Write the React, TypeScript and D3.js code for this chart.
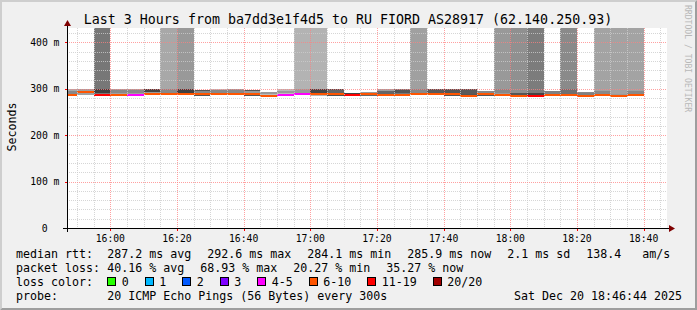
import React from "react";
import * as d3 from "d3";

// ---------- data ----------
const lossLabels = ["0", "1", "2", "3", "4-5", "6-10", "11-19", "20/20"];
const lossColors = ["#26ff00", "#00b8ff", "#0059ff", "#7e00ff", "#ff00ff", "#ff5500", "#ff0000", "#a10000"];

// 5-minute intervals starting 15:45 (35 intervals, last 18:35-18:40)
const smokeTop = [298.8, 298.8, 500, 298.8, 298.8, 298.8, 500, 500, 297.5, 298.8, 298.8, 297, 293.6, 298.8, 500, 500, 299, 292, 293, 300, 299, 500, 298.8, 298.8, 298.8, 295.7, 500, 500, 500, 295.7, 500, 293, 500, 500, 500];
const smokeBottom = [285, 285.9, 286, 286.5, 286.5, 286, 286.5, 286.5, 284.5, 286.5, 286.5, 284.5, 282.2, 284.5, 286.5, 284.5, 284.5, 285, 285, 283.5, 285, 286, 286, 284.5, 284, 284.3, 286, 284, 284, 285.5, 284.5, 283.5, 285.5, 283.5, 285.5];
const smokeGrey = [0xaa, 0xa0, 0x77, 0xa0, 0xa0, 0x99, 0xa8, 0x99, 0x55, 0xbb, 0x99, 0x55, 0xbb, 0xbb, 0xb3, 0xb3, 0x50, 0x44, 0x66, 0xa0, 0x77, 0xa0, 0x55, 0x55, 0x55, 0x55, 0x99, 0x90, 0x7c, 0x88, 0x8a, 0x88, 0xa3, 0xa3, 0xa3];
const coreTop = [295.7, 296, 298.8, 297, 297.3, 298.8, 298.8, 298.8, 296, 297, 297, 295, 292.5, 296, 298.8, 298.8, 297, 292, 292.5, 296, 297, 298.8, 298, 298.8, 298, 295.7, 298.8, 290, 291.4, 295, 298.8, 292, 295.7, 288.6, 295.7];
const coreBottom = [289.3, 292, 290, 290, 290, 293.6, 291, 290, 290, 290, 290, 290, 288, 291, 291, 290.5, 292, 285, 290, 288, 290, 291, 291, 284.5, 288, 290, 290, 286.5, 286.5, 289, 288, 287.5, 289, 287, 289];
const coreGrey = [0x88, 0x55, 0x40, 0x88, 0x88, 0x44, 0x88, 0x40, 0x88, 0x88, 0x88, 0x99, 0x99, 0x99, 0x99, 0x44, 0x66, 0x44, 0x99, 0x66, 0x55, 0x88, 0x5a, 0x55, 0x5a, 0x88, 0x88, 0x55, 0x44, 0x80, 0x70, 0x80, 0x88, 0x99, 0x88];
const medianMs = [287.1, 292.5, 287.1, 287.6, 287.6, 288.6, 288.6, 288.6, 288.6, 288.6, 288.6, 288, 285.3, 287.6, 288.6, 289.5, 289.5, 287.1, 288.6, 285.9, 287.1, 288, 288, 288, 285, 289.3, 287.1, 285, 285, 287.1, 286, 284.8, 287.1, 285, 287.1];
const lossIdx = [5, 5, 6, 5, 4, 5, 5, 5, 5, 5, 5, 5, 5, 4, 4, 5, 5, 6, 5, 5, 5, 5, 5, 5, 5, 5, 5, 5, 6, 5, 5, 5, 5, 5, 5];

const rttLegend = ["287.2 ms avg", "292.6 ms max", "284.1 ms min", "285.9 ms now", "2.1 ms sd", "138.4   am/s"];
const lossLegend = ["40.16 % avg", "68.93 % max", "20.27 % min", "35.27 % now"];
const titleText = "Last 3 Hours from ba7dd3e1f4d5 to RU FIORD AS28917 (62.140.250.93)";
const probeText = "20 ICMP Echo Pings (56 Bytes) every 300s";
const dateText = "Sat Dec 20 18:46:44 2025";

// ---------- layout ----------
const W = 697, H = 310;
const PL = 67, PR = 667, PT = 28, PB = 228;
const MONO = "'DejaVu Sans Mono', monospace";
const CW = 7; // char width of legend font

const tStart = new Date(2025, 11, 20, 15, 47, 0);
const tEnd = new Date(2025, 11, 20, 18, 47, 0);
const firstInterval = new Date(2025, 11, 20, 15, 45, 0);

const x = d3.scaleTime().domain([tStart, tEnd]).range([PL, PR]);
const y = d3.scaleLinear().domain([0, 431]).range([PB, PT]);

const grey = (g: number) => d3.rgb(g, g, g).formatHex();

export default function App() {
  const majorX = x.ticks(d3.timeMinute.every(20) as any);
  const minorX = x.ticks(d3.timeMinute.every(5) as any).filter((t) => t.getMinutes() % 20 !== 0);
  const minorY = d3.range(20, 431, 20).filter((v) => v % 100 !== 0);
  const majorY = d3.range(0, 431, 100);
  const fmt = d3.timeFormat("%H:%M");

  const intervals = medianMs.map((m, i) => {
    const s = d3.timeMinute.offset(firstInterval, 5 * i);
    const e = d3.timeMinute.offset(s, 5);
    return { x0: Math.max(x(s), PL), x1: x(e), i };
  });

  // legend boxes
  let lx = 107.3;
  const boxes = lossLabels.map((lab, i) => {
    const item = { bx: lx, tx: lx + 14.5, lab, col: lossColors[i] };
    lx = lx + 14.5 + lab.length * CW + 16;
    return item;
  });

  const rttX = [107.3];
  rttLegend.forEach((s, i) => { if (i > 0) rttX.push(rttX[i - 1] + rttLegend[i - 1].length * CW + 16); });
  const lossX = [107.3];
  lossLegend.forEach((s, i) => { if (i > 0) lossX.push(lossX[i - 1] + lossLegend[i - 1].length * CW + 16); });

  return (
    <svg width={W} height={H} style={{ position: "absolute", left: 0, top: 0 }} xmlns="http://www.w3.org/2000/svg">
      <defs>
        <clipPath id="plot">
          <rect x={PL} y={PT} width={PR - PL} height={PB - PT} />
        </clipPath>
      </defs>
      <rect x={0} y={0} width={W} height={H} fill="#f0f0f0" />
      <polygon points={`0,0 ${W},0 ${W - 2},2 2,2 2,${H - 2} 0,${H}`} fill="#cecece" />
      <polygon points={`${W},0 ${W},${H} 0,${H} 2,${H - 2} ${W - 2},${H - 2} ${W - 2},2`} fill="#9e9e9e" />
      <rect x={PL} y={PT} width={PR - PL} height={PB - PT} fill="#ffffff" />

      <g clipPath="url(#plot)" shapeRendering="crispEdges">
        {intervals.map(({ x0, x1, i }) => (
          <g key={i}>
            <rect x={x0} width={x1 - x0} y={y(smokeTop[i])} height={y(smokeBottom[i]) - y(smokeTop[i])} fill={grey(smokeGrey[i])} />
            <rect x={x0} width={x1 - x0} y={y(coreTop[i])} height={y(coreBottom[i]) - y(coreTop[i])} fill={grey(coreGrey[i])} />
            <rect x={x0} width={x1 - x0} y={y(medianMs[i]) - 1} height={2} fill={lossColors[lossIdx[i]]} />
          </g>
        ))}
      </g>

      {/* grid */}
      <g shapeRendering="crispEdges" strokeWidth={1} strokeDasharray="1,1">
        {minorX.map((t) => (
          <line key={"mx" + t.getTime()} x1={Math.round(x(t)) + 0.5} x2={Math.round(x(t)) + 0.5} y1={PT} y2={PB} stroke="#cccccc" strokeOpacity={0.8} />
        ))}
        {minorY.map((v) => (
          <line key={"my" + v} y1={Math.round(y(v)) + 0.5} y2={Math.round(y(v)) + 0.5} x1={PL} x2={PR} stroke="#cccccc" strokeOpacity={0.8} />
        ))}
        {majorX.map((t) => (
          <line key={"Mx" + t.getTime()} x1={Math.round(x(t)) + 0.5} x2={Math.round(x(t)) + 0.5} y1={PT} y2={PB} stroke="#ff8080" strokeOpacity={0.75} />
        ))}
        {majorY.filter((v) => v > 0).map((v) => (
          <line key={"My" + v} y1={Math.round(y(v)) + 0.5} y2={Math.round(y(v)) + 0.5} x1={PL} x2={PR} stroke="#ff8080" strokeOpacity={0.75} />
        ))}
      </g>

      {/* axes */}
      <g shapeRendering="crispEdges" stroke="#000">
        <line x1={PL - 4} x2={PR + 4} y1={PB + 0.5} y2={PB + 0.5} />
        <line x1={PL + 0.5} x2={PL + 0.5} y1={PB + 4} y2={PT - 4} />
        {majorX.map((t) => (
          <line key={"tx" + t.getTime()} x1={Math.round(x(t)) + 0.5} x2={Math.round(x(t)) + 0.5} y1={PB + 1} y2={PB + 3} stroke="#ff0000" />
        ))}
        {majorY.filter((v) => v > 0).map((v) => (
          <line key={"ty" + v} x1={PL - 2} x2={PL} y1={Math.round(y(v)) + 0.5} y2={Math.round(y(v)) + 0.5} stroke="#ff0000" />
        ))}
      </g>
      <polygon points={`${PR + 2},${PB - 3} ${PR + 8},${PB + 0.5} ${PR + 2},${PB + 4}`} fill="#7f0000" />
      <polygon points={`${PL - 3},${PT - 2} ${PL + 0.5},${PT - 8} ${PL + 4},${PT - 2}`} fill="#7f0000" />

      {/* tick labels */}
      <g fontFamily={MONO} fontSize={9.75} fill="#000">
        {majorX.map((t) => (
          <text key={"lx" + t.getTime()} x={x(t)} y={241.5} textAnchor="middle">{fmt(t)}</text>
        ))}
        {majorY.map((v) => (
          <text key={"ly" + v} x={v === 0 ? 47.5 : 59.5} y={y(v) + 3.6} textAnchor="end">{v === 0 ? "0" : `${v} m`}</text>
        ))}
      </g>

      {/* title and labels */}
      <text x={348} y={23.5} fontFamily={MONO} fontSize={13.3} textAnchor="middle" fill="#000">{titleText}</text>
      <text transform="translate(15.5,127) rotate(-90)" fontFamily={MONO} fontSize={11.63} textAnchor="middle" fill="#000">Seconds</text>
      <text transform="translate(684.5,5) rotate(90)" fontFamily={MONO} fontSize={8.1} fill="#b8b8b8">RRDTOOL / TOBI OETIKER</text>

      {/* legend */}
      <g fontFamily={MONO} fontSize={11.63} fill="#000" style={{ whiteSpace: "pre" }}>
        <text x={16} y={258.3}>median rtt:</text>
        {rttLegend.map((s, i) => (
          <text key={"r" + i} x={rttX[i]} y={258.3} xmlSpace="preserve">{s}</text>
        ))}
        <text x={16} y={272.1}>packet loss:</text>
        {lossLegend.map((s, i) => (
          <text key={"p" + i} x={lossX[i]} y={272.1}>{s}</text>
        ))}
        <text x={16} y={286}>loss color:</text>
        {boxes.map((b, i) => (
          <g key={"b" + i}>
            <rect x={b.bx + 0.5} y={277.2} width={8} height={8} fill={b.col} stroke="#000" strokeWidth={1} shapeRendering="crispEdges" />
            <text x={b.tx} y={286}>{b.lab}</text>
          </g>
        ))}
        <text x={16} y={299.9}>probe:</text>
        <text x={107.3} y={299.9}>{probeText}</text>
        <text x={514} y={299.9}>{dateText}</text>
      </g>
    </svg>
  );
}
